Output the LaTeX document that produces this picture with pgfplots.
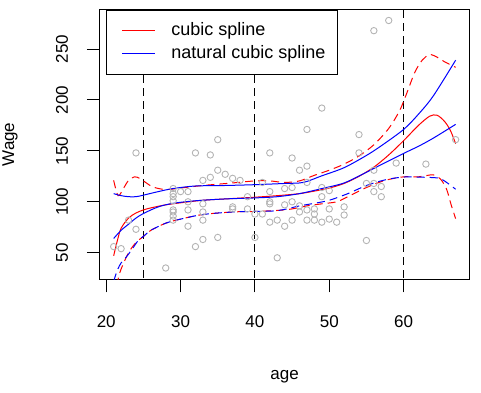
\documentclass[border=0pt]{standalone}
\usepackage{pgfplots}
\pgfplotsset{compat=1.18}
\usepackage{fontspec}
\setmainfont{Liberation Sans}
\definecolor{ptgray}{RGB}{180,180,180}
\definecolor{rred}{RGB}{255,0,0}
\definecolor{rblue}{RGB}{0,0,255}
\begin{document}
\begin{tikzpicture}
\useasboundingbox (-100pt,-113pt) rectangle (381pt,279.3pt);
\begin{axis}[
  scale only axis, width=369.3pt, height=269.7pt,
  xmin=19.16, xmax=68.84, ymin=23.9, ymax=288.7,
  axis line style={line width=1pt},
  xtick={20,30,40,50,60}, ytick={50,100,150,200,250},
  tick align=outside, major tick length=13pt,
  xtick pos=bottom, ytick pos=left,
  tick style={line width=1pt, black},
  /pgf/number format/assume math mode=true,
  ticklabel style={font=\fontsize{17}{20}\selectfont},
  xticklabel style={anchor=center, yshift=-29.5pt},
  yticklabel style={anchor=center, xshift=-25pt, rotate=90},
  label style={font=\fontsize{17}{20}\selectfont},
  xlabel={age}, ylabel={Wage},
  xlabel style={at={(axis description cs:0.5,-0.3611)}, anchor=center},
  ylabel style={at={(axis description cs:-0.2437,0.5)}, anchor=center},
  legend style={at={(0.0169,1)}, anchor=north west, draw=black, line width=1pt, fill=white,
    inner xsep=12pt, inner ysep=12pt, row sep=6pt,
    font=\fontsize{18}{21}\selectfont,
    nodes={inner sep=0pt, text height=13pt, text depth=4pt, anchor=west},
    /tikz/every odd column/.style={column sep=15.7pt}},
  legend cell align=left,
  legend image code/.code={\path (0pt,0pt); \draw[#1] (3pt,0pt) -- (36pt,0pt);},
  every axis plot/.append style={line width=1pt},
]
\addplot[only marks, mark=o, mark size=3.2pt, ptgray, mark options={line width=0.9pt}, forget plot] table {
x y
21 56
22 54
23 82
24 73
24 148
28 35
29 113
29 108
29 105
29 101
29 92
29 90
29 86
29 82
30 110
31 110
31 100
31 92
31 76
32 148
32 56
33 121
33 98
33 90
33 82
33 63
34 146
34 124
35 161
35 131
35 65
36 127
37 123
37 95
37 93
38 121
39 105
39 93
40 88
40 65
41 119
41 88
42 148
42 110
42 100
42 98
42 80
43 82
43 45
44 113
44 97
44 76
45 143
45 114
45 100
45 82
46 131
46 96
46 90
47 171
47 135
47 119
47 92
47 82
48 93
48 88
48 82
49 192
49 114
49 105
49 80
50 111
50 93
50 83
51 80
52 95
52 87
54 166
54 148
55 118
55 62
56 268
56 131
56 118
56 110
57 115
57 105
58 278
59 138
63 137
67 161
};
\addplot[black, dash pattern=on 8pt off 5pt, forget plot] coordinates {(25,0) (25,300)};
\addplot[black, dash pattern=on 8pt off 5pt, forget plot] coordinates {(40,0) (40,300)};
\addplot[black, dash pattern=on 8pt off 5pt, forget plot] coordinates {(60,0) (60,300)};
% cubic spline fit
\addplot[rred, smooth] coordinates {
(21,47) (21.5,62) (22,74) (23,84) (24,89) (25,92) (26,94) (28,97) (30,99) (33,101.5)
(36,102.8) (40,104.5) (43,106) (46,108) (48,110.5) (50,113.5) (52,118) (54,125) (56,134)
(58,146) (60,160) (62,175) (63.5,184) (64.5,185) (65.5,179) (66.3,170) (67,157)};
\addlegendentry{cubic spline}
% natural cubic spline fit
\addplot[rblue, smooth] coordinates {
(21,64) (22,72) (23,78) (24,84) (25,88.5) (27,95) (29,98.5) (32,101) (36,102.8) (40,103.8)
(43,105) (46,108) (49,113) (52,118.5) (55,129) (57,136.5) (60,147.5) (62,154.5) (64,162.5) (67,176)};
\addlegendentry{natural cubic spline}
% cubic spline bands
\addplot[rred, smooth, dash pattern=on 8pt off 5pt, forget plot] coordinates {
(21,121) (21.6,106) (22.3,113) (23,121) (23.8,124.5) (24.5,123) (25.2,119.5) (26.3,114.5)
(28,112) (30,113.5) (33,116) (37,118.5) (40,120.5) (42,120.5) (44,119) (46,120.5) (48,126)
(50,131) (52,137) (54,145) (56,156) (58,172) (59.5,190) (60.5,208) (61.5,227) (62.5,239)
(63.5,244.5) (64.5,242) (65.5,237.5) (67,232)};
\addplot[rred, smooth, dash pattern=on 8pt off 5pt, forget plot] coordinates {
(21.3,5) (21.6,24) (22,34) (23,50) (24,60) (25,66) (26,72) (28,79) (30,83) (33,87.5)
(37,90) (40,90.5) (43,91.5) (45,93) (47,96) (49,98) (51,100) (52.5,105) (55,114)
(57.5,121) (60,124.5) (62,124.5) (64,126.5) (65,122) (65.8,112) (66.4,97) (67,83.5)};
% natural spline bands
\addplot[rblue, smooth, forget plot] coordinates {
(21,108) (22,106) (23,105) (24,105) (25,106.5) (27,110) (29,113) (32,115.5) (36,116)
(40,116.8) (44,118) (46.5,119) (49,125.5) (52,133.5) (55,145.5) (57,155) (60,171)
(62,186) (64,204) (67,239)};
\addplot[rblue, smooth, dash pattern=on 8pt off 5pt, forget plot] coordinates {
(21,22) (21.5,33) (22,40) (22.5,44) (23.4,52.6) (24.3,62) (25,66) (26,72) (28,79) (30,83)
(33,87.5) (37,90) (40,90.5) (42.5,91) (44,92.5) (46,96) (48,98.5) (50,101.5) (52.5,108)
(55,116) (57.5,121.5) (60,124.3) (63,124) (65,122.5) (67,112.3)};
\end{axis}
\end{tikzpicture}
\end{document}
